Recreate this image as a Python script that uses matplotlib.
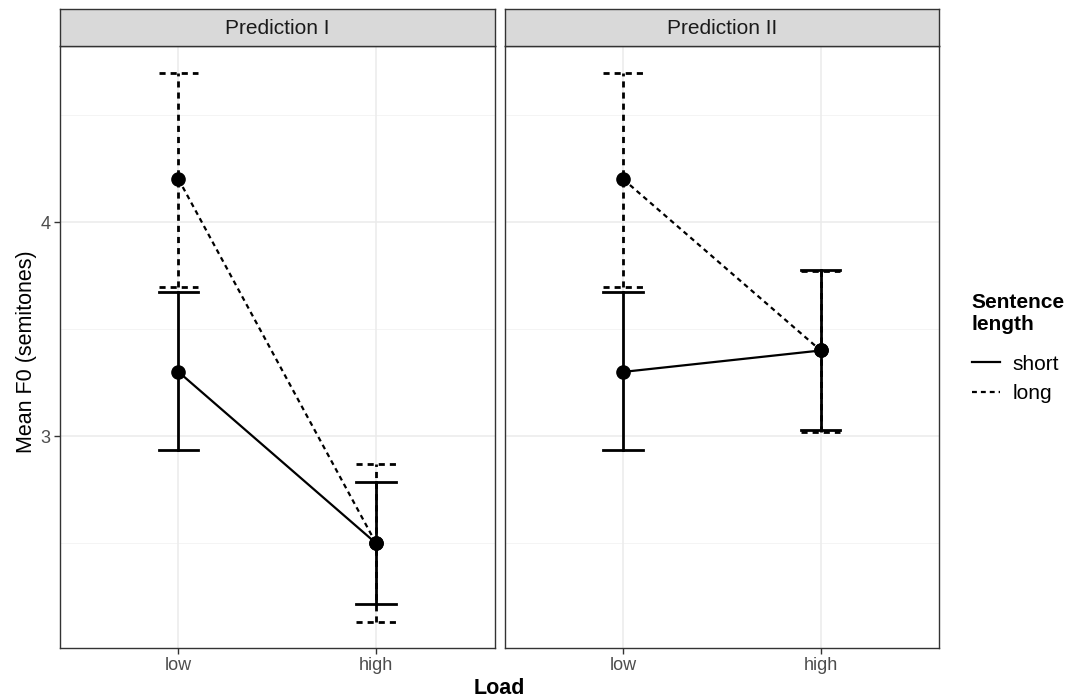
import matplotlib.pyplot as plt
from matplotlib.lines import Line2D

loads = ["low", "high"]
panels = ["Prediction I", "Prediction II"]
lengths = ["short", "long"]

# means for (low, high)
pred1_short = [3.30, 2.50]
pred1_long = [4.20, 2.50]
pred2_short = [3.30, 3.40]
pred2_long = [4.20, 3.40]

# error bar limits for (low, high)
pred1_short_lo = [2.935, 2.218]
pred1_short_hi = [3.672, 2.786]
pred1_long_lo = [3.695, 2.134]
pred1_long_hi = [4.694, 2.870]
pred2_short_lo = [2.935, 3.027]
pred2_short_hi = [3.672, 3.778]
pred2_long_lo = [3.695, 3.021]
pred2_long_hi = [4.694, 3.772]

y_ticks = [3, 4]
y_minor = [2.5, 3.5, 4.5]

panel_data = [
    {"short": (pred1_short, pred1_short_lo, pred1_short_hi),
     "long": (pred1_long, pred1_long_lo, pred1_long_hi)},
    {"short": (pred2_short, pred2_short_lo, pred2_short_hi),
     "long": (pred2_long, pred2_long_lo, pred2_long_hi)},
]

styles = {"short": "-", "long": (0, (2.2, 1.8))}

plt.rcParams["font.family"] = ["Liberation Sans", "DejaVu Sans"]

W, H = 1081, 700
fig = plt.figure(figsize=(W / 100, H / 100), dpi=100)

panel_left = [60, 504.7]
panel_w = 434.5
top_px, bottom_px, strip_top = 46, 647.7, 9.3
grey20 = "#333333"

for i, name in enumerate(panels):
    x0 = panel_left[i] / W
    ax = fig.add_axes([x0, 1 - bottom_px / H, panel_w / W, (bottom_px - top_px) / H])
    sax = fig.add_axes([x0, 1 - top_px / H, panel_w / W, (top_px - strip_top) / H])
    sax.set_facecolor("#D9D9D9")
    sax.set_xticks([])
    sax.set_yticks([])
    for sp in sax.spines.values():
        sp.set_color(grey20)
        sp.set_linewidth(1.0)
    sax.text(0.5, 0.47, name, ha="center", va="center", fontsize=15, color="#1A1A1A",
             transform=sax.transAxes)

    xs = list(range(len(loads)))
    ax.set_xlim(-0.6, 1.6)
    ax.set_ylim(2.012, 4.822)
    for y in y_minor:
        ax.axhline(y, color="#F2F2F2", lw=0.6, zorder=0)
    for y in y_ticks:
        ax.axhline(y, color="#EBEBEB", lw=1.1, zorder=0)
    for x in xs:
        ax.axvline(x, color="#EBEBEB", lw=1.1, zorder=0)

    for key in lengths:
        mean, lo, hi = panel_data[i][key]
        ls = styles[key]
        for x, m, a, b in zip(xs, mean, lo, hi):
            ax.plot([x, x], [a, b], color="black", lw=2.0, ls=ls, zorder=2)
            ax.plot([x - 0.1, x + 0.1], [a, a], color="black", lw=2.0, ls=ls, zorder=2)
            ax.plot([x - 0.1, x + 0.1], [b, b], color="black", lw=2.0, ls=ls, zorder=2)
        ax.plot(xs, mean, color="black", lw=1.6, ls=ls, zorder=3)
        ax.plot(xs, mean, "o", color="black", ms=9.5, zorder=4)

    ax.set_xticks(xs)
    ax.set_xticklabels(loads)
    ax.set_yticks(y_ticks)
    ax.tick_params(axis="both", colors=grey20, labelcolor="#4D4D4D", labelsize=13,
                   length=4, width=1.0, pad=3)
    if i > 0:
        ax.tick_params(axis="y", left=False, labelleft=False)
    for sp in ax.spines.values():
        sp.set_color(grey20)
        sp.set_linewidth(1.0)

fig.text(27 / W, 1 - 352 / H, "Mean F0 (semitones)", rotation=90,
         ha="center", va="center", fontsize=15.5)
fig.text((60 + 939) / 2 / W, 1 - 689 / H, "Load", ha="center", va="center",
         fontsize=15.5, fontweight="bold")

handles = [Line2D([], [], color="black", lw=1.6, ls=styles[k]) for k in lengths]
leg = fig.legend(handles, lengths, loc="upper left", bbox_to_anchor=(953 / W, 1 - 274 / H),
                 title="Sentence\nlength", frameon=False, fontsize=15, handlelength=1.35,
                 handletextpad=0.62, labelspacing=0.52,
                 title_fontproperties={"weight": "bold", "size": 15})
leg._legend_box.align = "left"
leg._legend_box.sep = 15

fig.savefig("out.png", dpi=100)
